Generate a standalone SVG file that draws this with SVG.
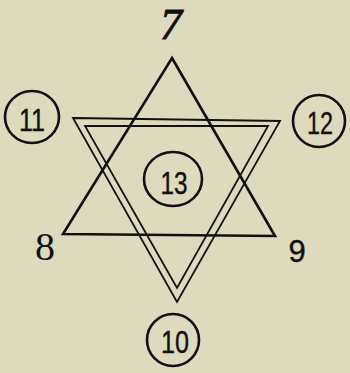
<svg xmlns="http://www.w3.org/2000/svg" width="350" height="373" viewBox="0 0 350 373">
<style>
.bg{fill:#dedabd}
.ln{fill:none;stroke:#111;stroke-linejoin:miter}
.c{fill:none;stroke:#111;stroke-width:2.6}
.t{font-family:"Liberation Sans",Arial,sans-serif;font-size:31px;fill:#111;stroke:#111;stroke-width:0.4;text-anchor:middle}
.s{font-family:"Liberation Serif","Times New Roman",serif;fill:#111;text-anchor:middle}
</style>
<rect class="bg" width="350" height="373"/>
<g id="connectors">
<polygon class="ln" stroke-width="2.6" points="172,58 275,236 63,234"/>
<polygon class="ln" stroke-width="1.8" points="73,118 280,121 177,302"/>
<polygon class="ln" stroke-width="1.8" points="85,126 268,126 177,288"/>
</g>
<g id="n7"><text class="s" x="171" y="39" font-size="44px" font-style="italic" stroke="#111" stroke-width="1">7</text></g>
<g id="n8"><text class="s" x="45" y="260" font-size="40px">8</text></g>
<g id="n9"><text class="t" x="297" y="262" font-size="34px" stroke-width="0.8">9</text></g>
<g id="n11"><ellipse class="c" cx="32" cy="117" rx="27" ry="26"/><text class="t" x="32" y="131" textLength="26" lengthAdjust="spacingAndGlyphs">11</text></g>
<g id="n12"><ellipse class="c" cx="319" cy="121" rx="26" ry="26"/><text class="t" x="320" y="134" textLength="26" lengthAdjust="spacingAndGlyphs">12</text></g>
<g id="n13"><ellipse class="c" cx="173" cy="179" rx="29" ry="27"/><text class="t" x="174" y="194" textLength="27" lengthAdjust="spacingAndGlyphs">13</text></g>
<g id="n10"><ellipse class="c" cx="173" cy="340" rx="26" ry="26"/><text class="t" x="175" y="353" textLength="28" lengthAdjust="spacingAndGlyphs">10</text></g>
</svg>
